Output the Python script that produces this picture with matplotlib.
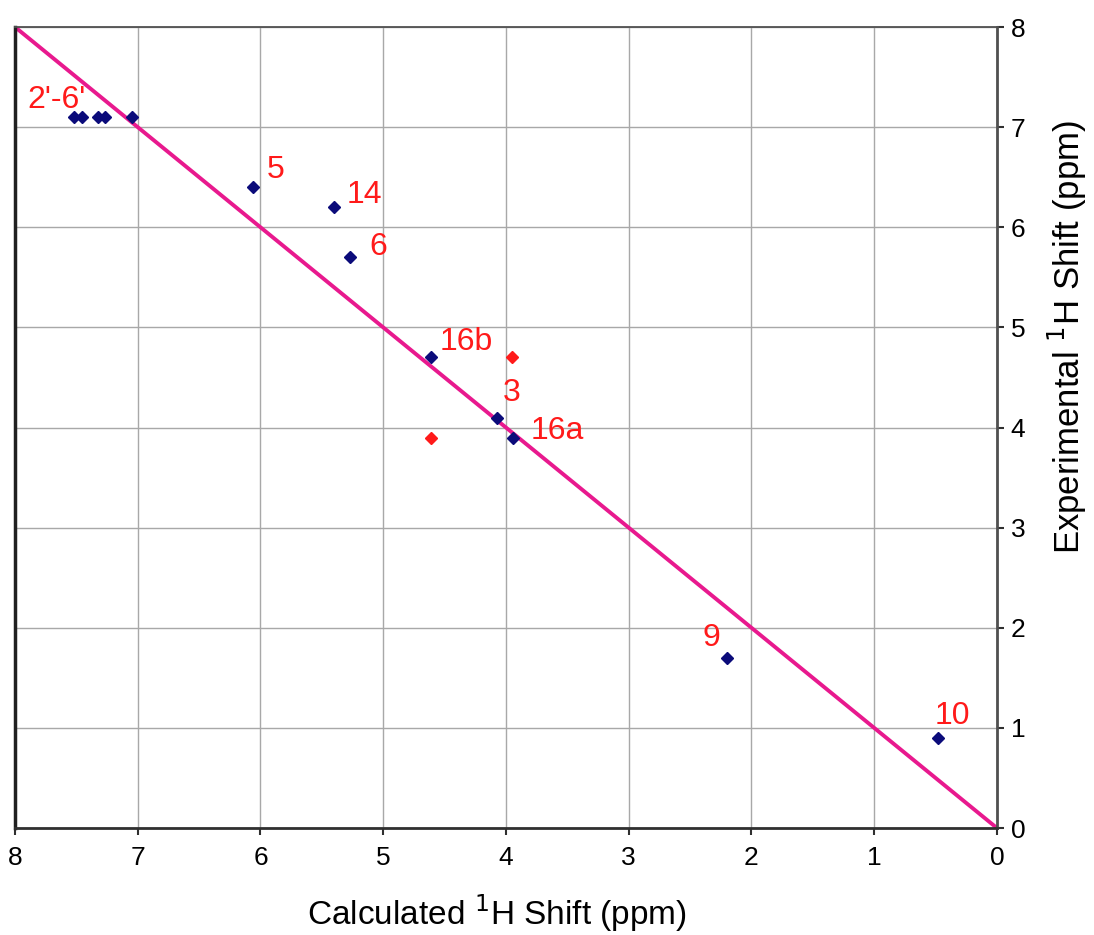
import matplotlib.pyplot as plt

plt.rcParams['font.family'] = ['Liberation Sans', 'DejaVu Sans']

# valeurs calculées vs expérimentales (ppm)
calc_bleu = [7.52, 7.45, 7.32, 7.27, 7.05, 6.06, 5.40, 5.27, 4.61, 4.07, 3.94, 2.20, 0.48]
exp_bleu = [7.1, 7.1, 7.1, 7.1, 7.1, 6.4, 6.2, 5.7, 4.7, 4.1, 3.9, 1.7, 0.9]

calc_rouge = [3.95, 4.61]
exp_rouge = [4.7, 3.9]

etiquettes = ["2'-6'", "5", "14", "6", "16b", "3", "16a", "9", "10"]
etiq_x = [7.66, 5.88, 5.15, 5.04, 4.32, 3.95, 3.58, 2.33, 0.36]
etiq_y = [7.27, 6.57, 6.32, 5.80, 4.85, 4.34, 3.97, 1.90, 1.12]

ticks = [0, 1, 2, 3, 4, 5, 6, 7, 8]

fig = plt.figure(figsize=(10.94, 9.35), dpi=100)
ax = fig.add_axes([0.0137, 0.1144, 0.8976, 0.8567])

ax.plot([8, 0], [8, 0], color="#e8198e", linewidth=2.8, zorder=2)
ax.plot(calc_bleu, exp_bleu, linestyle="none", marker="D", markersize=6,
        color="#0b0b7a", zorder=3)
ax.plot(calc_rouge, exp_rouge, linestyle="none", marker="D", markersize=6,
        color="#ff1a1a", zorder=3)

for t, x, y in zip(etiquettes, etiq_x, etiq_y):
    ax.text(x, y, t, color="#ff1a1a", fontsize=23, ha="center", va="center")

ax.set_xlim(8, 0)
ax.set_ylim(0, 8)
ax.set_xticks(ticks)
ax.set_yticks(ticks)
ax.yaxis.tick_right()
ax.tick_params(axis="both", labelsize=19, length=5, width=1.5, color="#303030", direction="out")
ax.tick_params(axis="x", pad=8)
ax.tick_params(axis="y", pad=5)
ax.grid(True, color="#a8a8a8", linewidth=1)
ax.set_axisbelow(True)

ax.spines["left"].set_linewidth(2.5)
ax.spines["left"].set_color("#202020")
ax.spines["bottom"].set_linewidth(2)
ax.spines["bottom"].set_color("#303030")
ax.spines["right"].set_linewidth(2)
ax.spines["right"].set_color("#505050")
ax.spines["top"].set_linewidth(1.3)
ax.spines["top"].set_color("#505050")

fig.text(0.454, 0.023, "Calculated $^{1}$H Shift (ppm)", fontsize=24, ha="center", va="center")
fig.text(0.976, 0.64, "Experimental $^{1}$H Shift (ppm)", fontsize=25, ha="center",
         va="center", rotation=90)

fig.savefig("out.png", dpi=100, facecolor="white")
